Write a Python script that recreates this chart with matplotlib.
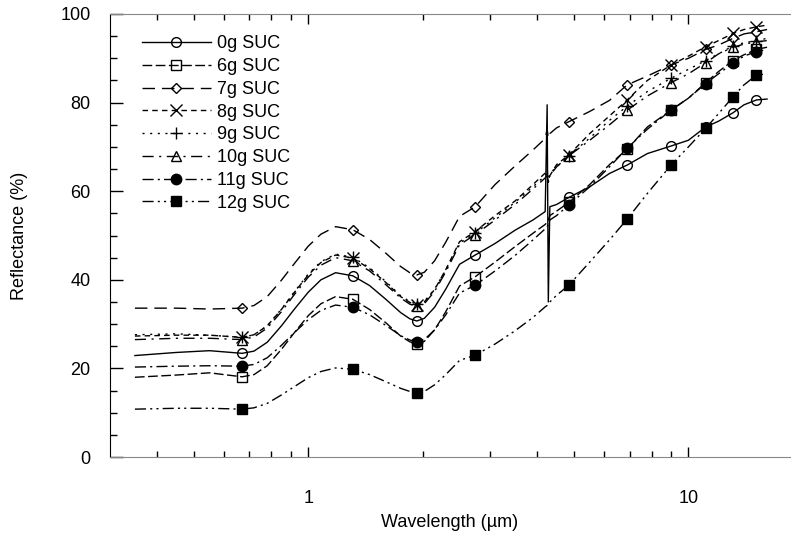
import numpy as np
import matplotlib
matplotlib.use("Agg")
from matplotlib import pyplot as plt
from matplotlib.lines import Line2D
from matplotlib.ticker import FixedLocator, FuncFormatter, LogLocator, NullFormatter, MultipleLocator

plt.rcParams['font.family'] = ['Liberation Sans', 'DejaVu Sans']

# wavelength grid (um)
wl = np.array([0.35, 0.45, 0.55, 0.67, 0.72, 0.78, 0.85, 0.92, 1.0, 1.08,
               1.18, 1.31, 1.45, 1.6, 1.75, 1.85, 1.93, 2.02, 2.15, 2.3,
               2.5, 2.75, 3.1, 3.5, 3.9, 4.2, 4.25, 4.28, 4.32, 4.5,
               4.85, 5.5, 6.2, 6.9, 7.8, 9.0, 10.0, 11.1, 12.0, 13.1,
               14.0, 15.1, 16.1])

# reflectance (%) per sucrose amount
r0 = [22.9, 23.6, 24.0, 23.4, 23.9, 25.9, 29.6, 33.4, 37.2, 40.0,
      41.6, 40.9, 38.7, 35.6, 32.6, 31.2, 30.7, 31.3, 33.8, 37.9,
      43.5, 45.6, 48.2, 51.2, 53.5, 55.4, 79.5, 35.0, 56.5, 57.0,
      58.6, 61.0, 64.0, 65.9, 68.5, 70.2, 71.5, 74.5, 75.8, 77.7,
      79.5, 80.6, 80.8]
r6 = [18.0, 18.5, 19.0, 18.1, 18.6, 20.6, 24.3, 28.1, 31.9, 34.6,
      36.2, 35.6, 33.3, 30.3, 27.3, 26.0, 25.5, 26.1, 28.7, 32.8,
      38.6, 40.7, 44.0, 47.5, 50.5, 52.5, 53.0, 53.5, 54.5, 55.5,
      57.5, 61.5, 66.0, 69.5, 74.5, 78.3, 81.0, 84.5, 87.0, 89.5,
      90.8, 92.0, 92.5]
r7 = [33.6, 33.6, 33.4, 33.6, 34.2, 36.2, 39.9, 43.7, 47.6, 50.3,
      52.0, 51.3, 49.1, 46.0, 43.0, 41.6, 41.1, 41.7, 44.3, 48.5,
      54.3, 56.5, 61.5, 65.7, 69.3, 71.9, 74.0, 72.0, 73.0, 74.3,
      75.7, 78.0, 80.5, 84.0, 86.0, 88.5, 90.0, 92.0, 93.0, 94.5,
      95.5, 96.0, 96.5]
r8 = [27.3, 27.5, 27.5, 27.0, 27.6, 29.6, 33.3, 37.2, 41.1, 43.9,
      45.6, 44.9, 42.5, 39.4, 36.2, 34.9, 34.3, 35.0, 37.8, 42.3,
      48.6, 50.9, 54.5, 57.8, 61.5, 64.1, 65.0, 62.0, 63.5, 66.0,
      68.2, 73.0, 77.0, 80.6, 85.0, 88.5, 90.5, 92.6, 94.0, 95.6,
      96.5, 97.1, 97.5]
r9 = [27.6, 27.8, 27.5, 27.0, 27.6, 29.6, 33.4, 37.3, 41.3, 44.1,
      45.8, 45.1, 42.7, 39.6, 36.4, 35.1, 34.5, 35.1, 37.9, 42.2,
      48.3, 50.5, 54.0, 57.5, 61.0, 63.5, 64.0, 63.0, 64.0, 65.5,
      68.0, 72.0, 76.0, 79.2, 82.5, 85.5, 87.5, 89.5, 91.0, 92.8,
      93.5, 94.0, 94.5]
r10 = [26.5, 26.8, 26.8, 26.5, 27.1, 29.1, 32.8, 36.7, 40.6, 43.3,
       45.0, 44.3, 42.0, 38.9, 35.9, 34.5, 34.0, 34.6, 37.4, 41.8,
       47.9, 50.2, 53.5, 57.0, 60.5, 63.0, 63.5, 62.5, 63.5, 65.5,
       68.0, 71.5, 75.0, 78.3, 81.5, 84.5, 86.5, 89.0, 91.0, 92.5,
       93.2, 93.7, 94.0]
r11 = [20.3, 20.5, 20.6, 20.5, 20.9, 22.4, 25.2, 28.1, 31.0, 33.1,
       34.3, 33.8, 32.1, 29.7, 27.4, 26.4, 26.0, 26.5, 28.7, 32.1,
       37.0, 38.8, 42.0, 45.5, 49.0, 51.5, 52.0, 52.5, 53.5, 54.5,
       56.9, 61.0, 65.5, 69.7, 74.0, 78.3, 81.0, 84.3, 86.5, 88.9,
       90.5, 91.5, 92.0]
r12 = [10.8, 11.0, 11.0, 10.8, 11.1, 12.1, 14.0, 15.9, 17.9, 19.3,
       20.1, 19.8, 18.6, 17.0, 15.5, 14.8, 14.5, 14.8, 16.3, 18.6,
       21.8, 23.0, 25.5, 28.5, 31.5, 33.9, 34.2, 34.5, 35.0, 36.5,
       38.8, 44.0, 49.0, 53.7, 59.5, 65.9, 70.0, 74.2, 77.5, 81.3,
       84.0, 86.2, 86.5]

labels = ["0g SUC", "6g SUC", "7g SUC", "8g SUC", "9g SUC", "10g SUC", "11g SUC", "12g SUC"]
series = [r0, r6, r7, r8, r9, r10, r11, r12]
# grid indices that carry a symbol
mark_idx = [3, 11, 16, 21, 30, 33, 35, 37, 39, 41]

styles = [
    dict(ls="-", marker="o", mfc="none", ms=7),
    dict(ls=(0, (7, 2.5)), marker="s", mfc="none", ms=7),
    dict(ls=(0, (9, 5)), marker="D", mfc="none", ms=5.5),
    dict(ls=(0, (4, 3)), marker="x", mfc="none", ms=8),
    dict(ls=(0, (1.5, 4)), marker="+", mfc="none", ms=9),
    dict(ls=(0, (8, 4, 1.5, 4)), marker="^", mfc="none", ms=7.5),
    dict(ls=(0, (8, 3, 1.5, 3)), marker="o", mfc="black", ms=7.5),
    dict(ls=(0, (8, 3, 1.5, 3, 1.5, 3)), marker="s", mfc="black", ms=7.5),
]

fig = plt.figure(figsize=(7.91, 5.33), dpi=100)
ax = fig.add_axes([110 / 791, 76 / 533, 680 / 791, 443 / 533])

handles = []
for r, lab, st in zip(series, labels, styles):
    r = np.asarray(r)
    ax.plot(wl, r, color="black", lw=1.0, ls=st["ls"])
    ax.plot(wl[mark_idx], r[mark_idx], ls="none", marker=st["marker"],
            mfc=st["mfc"], mec="black", ms=st["ms"], mew=1.0)
    handles.append(Line2D([], [], color="black", lw=1.0, ls=st["ls"],
                          marker=st["marker"], mfc=st["mfc"], mec="black",
                          ms=st["ms"], mew=1.0, label=lab))

ax.set_xscale("log")
ax.set_xlim(0.301, 18.5)
ax.set_ylim(0, 100)

ax.xaxis.set_major_locator(FixedLocator([1, 10]))
ax.xaxis.set_major_formatter(FuncFormatter(lambda v, p: "%g" % v))
ax.xaxis.set_minor_locator(LogLocator(base=10, subs=np.arange(2, 10)))
ax.xaxis.set_minor_formatter(NullFormatter())
ax.yaxis.set_major_locator(MultipleLocator(20))
ax.yaxis.set_minor_locator(MultipleLocator(5))

ax.tick_params(which="both", direction="in", top=True, right=False, color="black", width=1)
ax.tick_params(axis="x", which="major", length=7, pad=24, labelsize=13)
ax.tick_params(axis="x", which="minor", length=4)
ax.tick_params(axis="y", which="major", length=9, pad=14, labelsize=13)
ax.tick_params(axis="y", which="minor", length=5)

for s in ["top", "bottom"]:
    ax.spines[s].set_color("#888888")
ax.spines["left"].set_color("black")
ax.spines["right"].set_visible(False)

ax.set_xlabel("Wavelength (µm)", fontsize=13)
ax.set_ylabel("Reflectance (%)", fontsize=13)
ax.xaxis.set_label_coords(0.5, -0.128)
ax.yaxis.set_label_coords(-0.12, 0.5)

ax.legend(handles=handles, loc="upper left", bbox_to_anchor=(0.047, 0.952),
          frameon=False, fontsize=13, handlelength=3.8, handletextpad=0.35,
          labelspacing=0.32, borderpad=0, borderaxespad=0, numpoints=1)

fig.savefig("out.png", dpi=100)
